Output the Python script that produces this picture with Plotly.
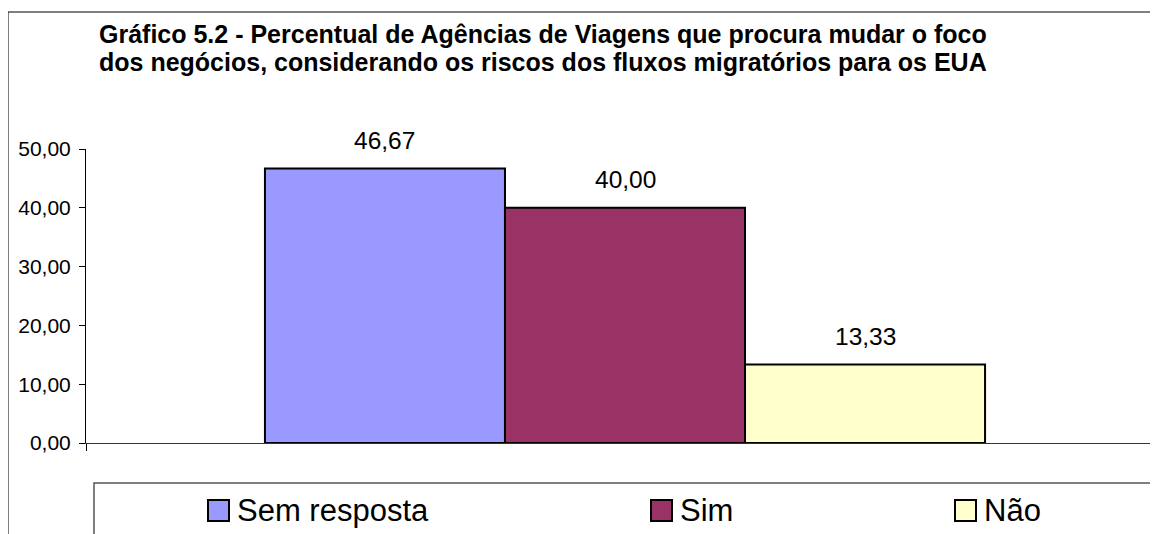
import plotly.graph_objects as go

# ---------------------------------------------------------------------------
# Data
# ---------------------------------------------------------------------------
series_names = ["Sem resposta", "Sim", "Não"]
series_values = [46.67, 40.00, 13.33]
series_colors = ["#9999FF", "#993366", "#FFFFCC"]
y_ticks = [0, 10, 20, 30, 40, 50]

title_lines = [
    "Gráfico 5.2 - Percentual de Agências de Viagens que procura mudar o foco",
    "dos negócios, considerando os riscos dos fluxos migratórios para os EUA",
]

# ---------------------------------------------------------------------------
# Layout geometry (window pixels; the page body adds an 8px offset)
# ---------------------------------------------------------------------------
OFF = 8
W, H = 1158 - OFF, 534 - OFF
PLOT_L, PLOT_R, PLOT_T, PLOT_B = 86, 1157, 149, 443
M_L, M_T = PLOT_L - OFF, PLOT_T - OFF
M_R, M_B = W - (PLOT_R - OFF), H - (PLOT_B - OFF)
PW, PH = PLOT_R - PLOT_L, PLOT_B - PLOT_T
FONT = "Liberation Sans, Arial, sans-serif"
BARGAP = 0.332


def px_x(p):
    return (p - PLOT_L) / PW


def px_y(p):
    return (PLOT_B - p) / PH


fig = go.Figure()
for name, val, col in zip(series_names, series_values, series_colors):
    fig.add_trace(go.Bar(
        x=[0], y=[val], name=name,
        marker=dict(color=col, line=dict(color="black", width=2)),
        showlegend=False, hoverinfo="skip",
    ))

# data labels, placed above each bar
n = len(series_names)
bw = (1 - BARGAP) / n
annotations = []
for i, val in enumerate(series_values):
    annotations.append(dict(
        x=(i - (n - 1) / 2) * bw, y=val, xref="x", yref="y",
        text=f"{val:.2f}".replace(".", ","), showarrow=False,
        yanchor="middle", yshift=28,
        font=dict(family=FONT, size=24.5, color="black"),
    ))

# title (two lines, left aligned)
for line, cy in zip(title_lines, [34, 62]):
    annotations.append(dict(
        x=px_x(97), y=px_y(cy), xref="paper", yref="paper",
        text=f"<b>{line}</b>", showarrow=False, xanchor="left", yanchor="middle",
        font=dict(family=FONT, size=25, color="black"),
    ))

shapes = [
    # outer chart border
    dict(type="rect", xref="paper", yref="paper",
         x0=px_x(8), x1=px_x(1170), y0=px_y(12), y1=px_y(545),
         line=dict(color="black", width=1), layer="below"),
    # legend box
    dict(type="rect", xref="paper", yref="paper",
         x0=px_x(94), x1=px_x(1152), y0=px_y(483), y1=px_y(545),
         line=dict(color="#555555", width=1.5), layer="below"),
]

# legend entries (Excel-style, irregular spacing)
legend_x = [208, 651, 955]
for name, col, lx in zip(series_names, series_colors, legend_x):
    shapes.append(dict(type="rect", xref="paper", yref="paper",
                       x0=px_x(lx), x1=px_x(lx + 21), y0=px_y(500), y1=px_y(521),
                       fillcolor=col, line=dict(color="black", width=2)))
    annotations.append(dict(x=px_x(lx + 27), y=px_y(510), xref="paper", yref="paper",
                            text=name, showarrow=False, xanchor="left", yanchor="middle",
                            font=dict(family=FONT, size=31, color="black")))

fig.update_layout(
    width=W, height=H,
    margin=dict(l=M_L, r=M_R, t=M_T, b=M_B),
    paper_bgcolor="white", plot_bgcolor="white",
    barmode="group", bargap=BARGAP, bargroupgap=0,
    separators=",.",
    xaxis=dict(range=[-0.5, 0.5 - 7 / 1078], showgrid=False, zeroline=False,
               showline=True, linecolor="#333333", linewidth=1,
               tickvals=[-0.5], ticks="outside", ticklen=7, tickcolor="black",
               showticklabels=False, fixedrange=True),
    yaxis=dict(range=[0, 50], tickvals=y_ticks, tickformat=".2f",
               showgrid=False, zeroline=False,
               showline=True, linecolor="black", linewidth=1,
               ticks="outside", ticklen=6, tickcolor="black",
               tickfont=dict(family=FONT, size=21, color="black"),
               ticklabelstandoff=4, fixedrange=True),
    shapes=shapes,
    annotations=annotations,
    showlegend=False,
)

fig.write_html("out.html")
